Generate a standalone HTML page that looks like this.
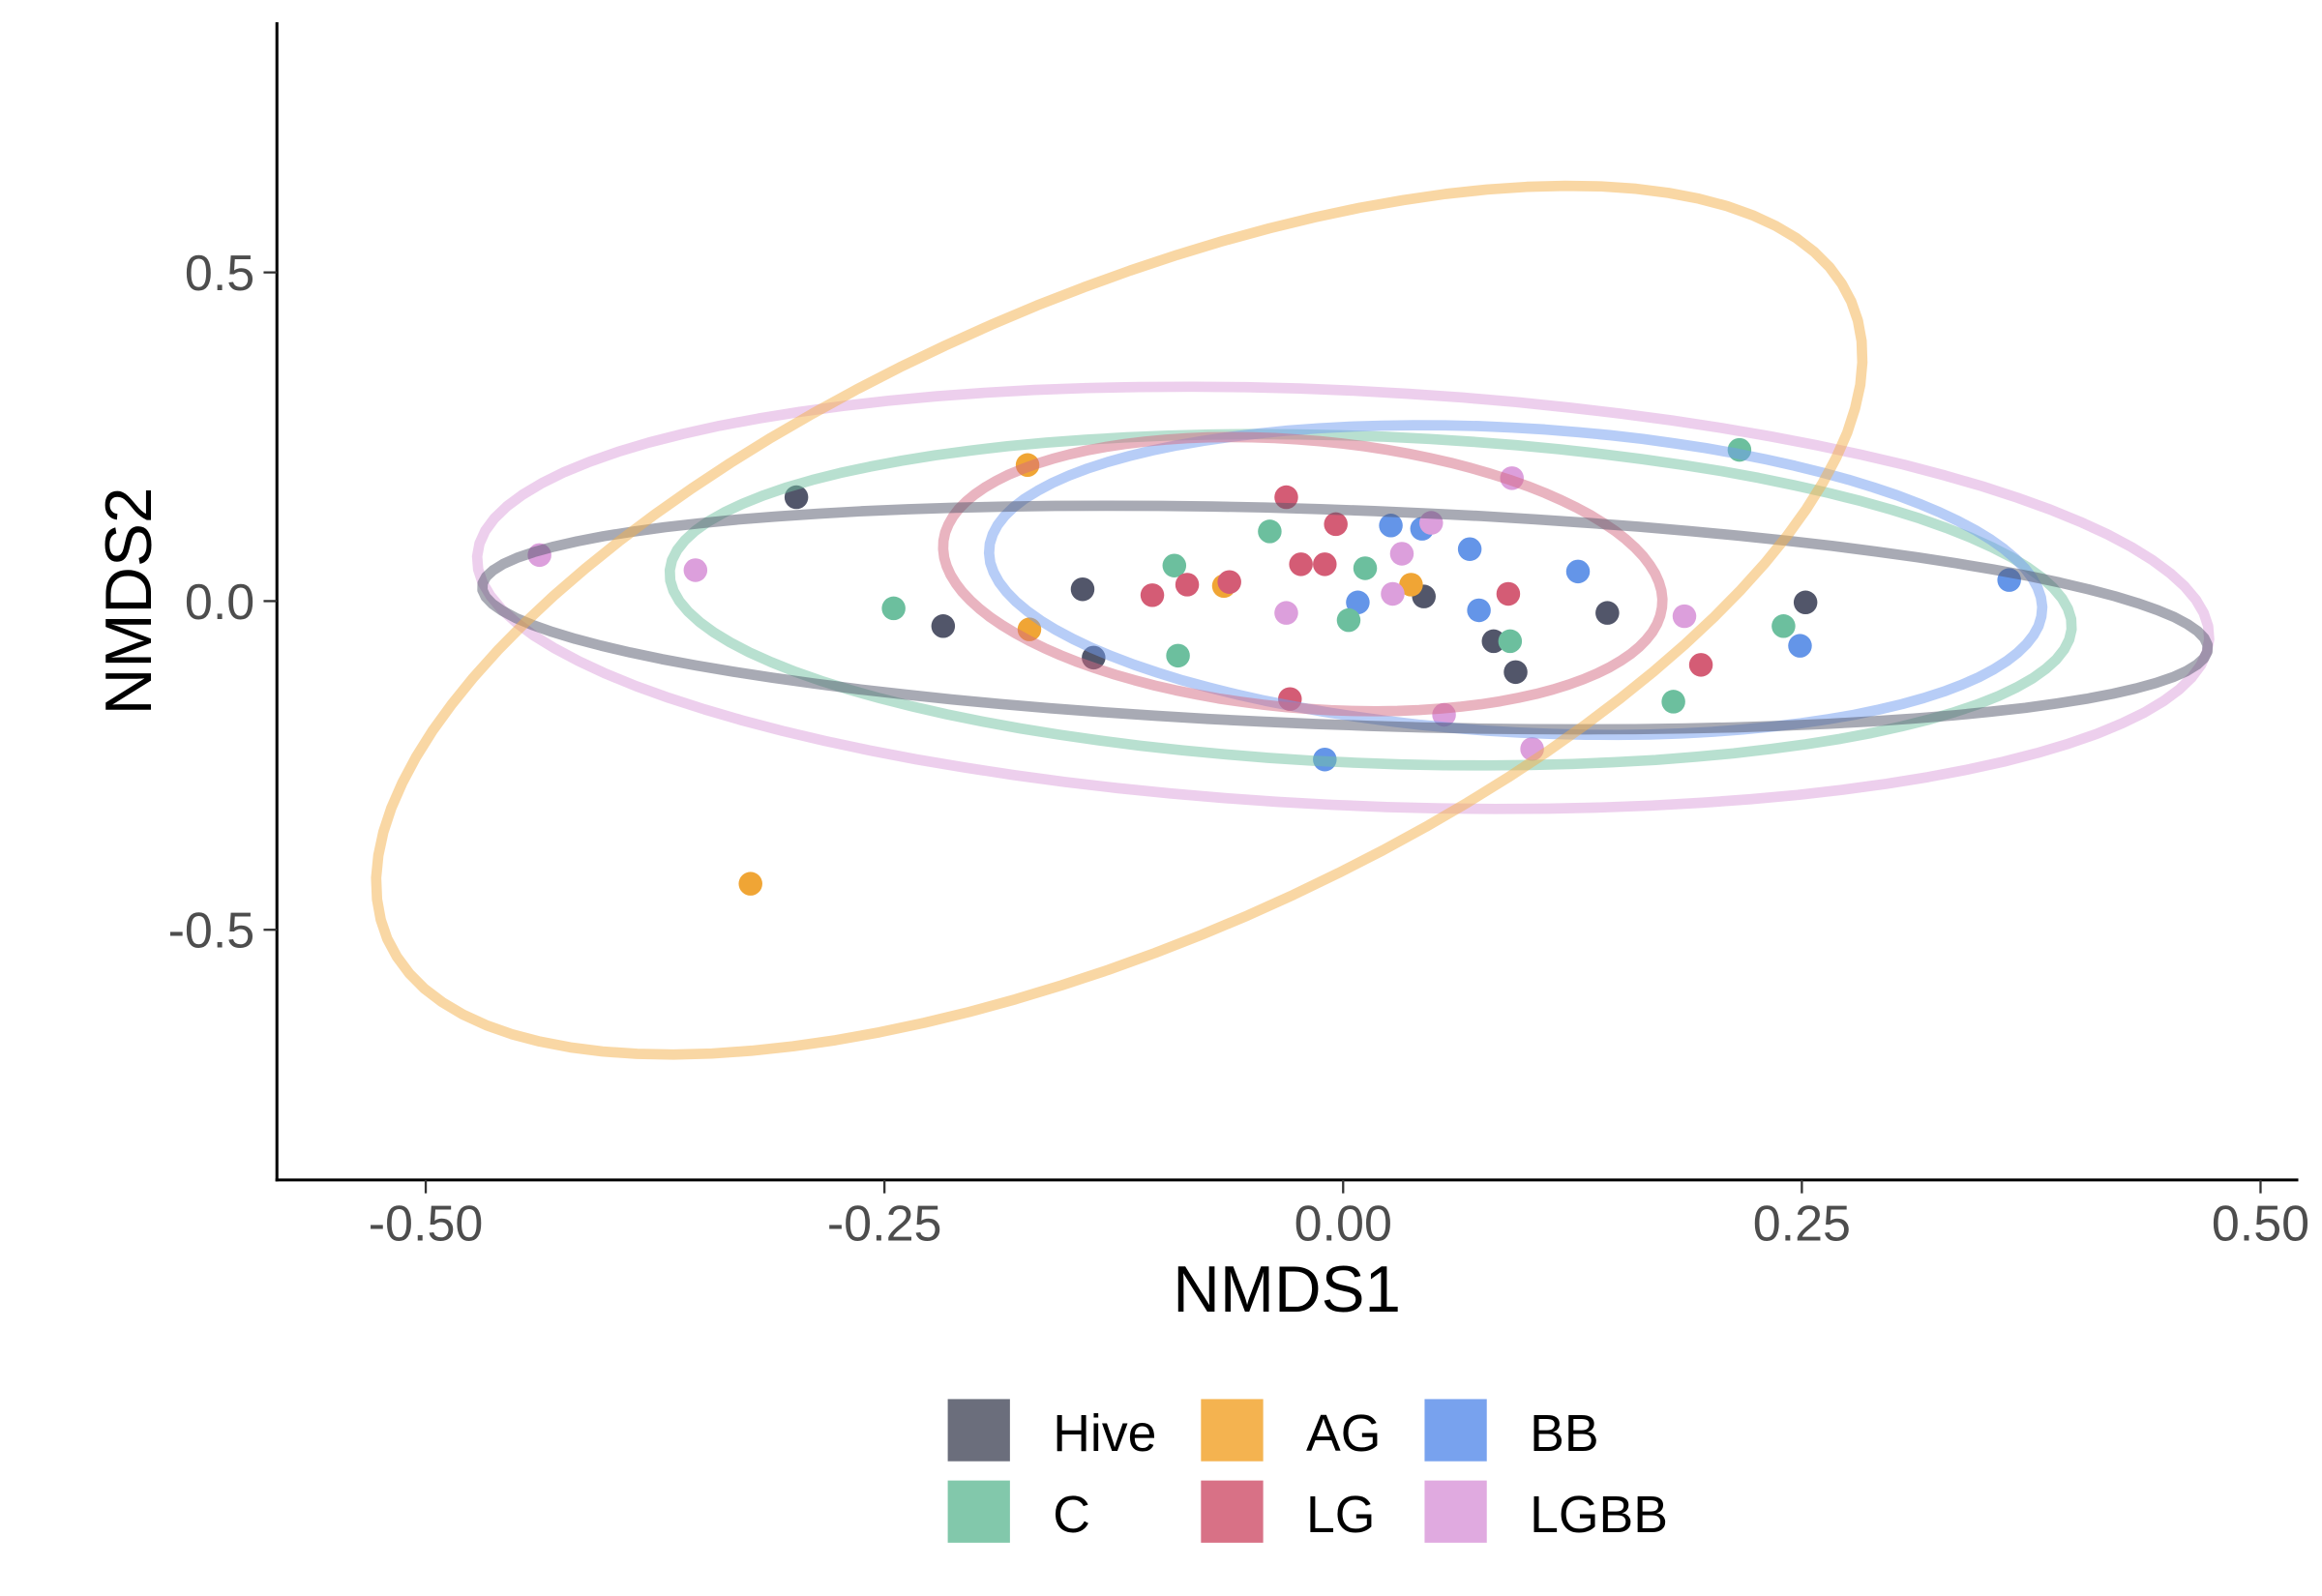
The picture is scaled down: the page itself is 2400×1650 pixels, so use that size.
<!DOCTYPE html>
<html><head><meta charset="utf-8"><style>
html,body{margin:0;padding:0;background:#fff;}
svg{display:block;}
text{font-family:"Liberation Sans",Arial,sans-serif;}
</style></head><body>
<svg id="chart" width="2400" height="1650" viewBox="0 0 1568 1078" xmlns="http://www.w3.org/2000/svg">
<g id="ellipses"></g>
<g id="points"></g>
<g id="axes"></g>
<g id="legend"></g>
</svg>
<script>
const groups = ["Hive","AG","BB","C","LG","LGBB"];
const hiveX = [-0.298,-0.218,-0.142,-0.136,0.044,0.082,0.094,0.144,0.252];
const hiveY = [0.158,-0.038,0.018,-0.086,0.007,-0.061,-0.108,-0.018,-0.002];
const agX = [-0.172,-0.171,-0.065,0.037,-0.323];
const agY = [0.207,-0.043,0.023,0.025,-0.430];
const bbX = [0.026,0.043,0.069,0.128,0.008,0.074,0.249,0.363,-0.010];
const bbY = [0.115,0.110,0.079,0.045,-0.002,-0.014,-0.068,0.032,-0.241];
const cX = [-0.245,-0.092,-0.090,-0.040,0.012,0.003,0.091,0.180,0.216,0.240];
const cY = [-0.011,0.054,-0.083,0.106,0.050,-0.029,-0.061,-0.153,0.230,-0.038];
const lgX = [-0.031,-0.004,-0.023,-0.010,-0.104,-0.085,-0.062,0.090,-0.029,0.195];
const lgY = [0.158,0.117,0.056,0.056,0.009,0.025,0.029,0.011,-0.149,-0.097];
const lgbbX = [-0.438,-0.353,-0.031,0.027,0.032,0.048,0.092,0.055,0.103,0.186];
const lgbbY = [0.070,0.047,-0.018,0.011,0.072,0.119,0.187,-0.173,-0.225,-0.023];
// ellipse: center x, center y, conjugate vector a (x,y), vector b (x,y)
const ellHive = [0.001,-0.025,0.470,-0.052,0.016,0.162];
const ellAG = [-0.122,-0.029,0.405,0.392,0.006,0.532];
const ellBB = [0.094,0.032,0.287,-0.041,-0.002,0.232];
const ellC = [0.015,0.002,0.382,-0.045,0.008,0.248];
const ellLG = [-0.022,0.041,0.196,-0.038,-0.003,0.205];
const ellLGBB = [0.0,0.005,0.472,-0.063,0.006,0.315];
const xTicks = [-0.5,-0.25,0,0.25,0.5];
const xTickLabels = ["-0.50","-0.25","0.00","0.25","0.50"];
const yTicks = [0.5,0,-0.5];
const yTickLabels = ["0.5","0.0","-0.5"];

const NS="http://www.w3.org/2000/svg";
const X = v => 907 + v*1239;
const Y = v => 406 - v*444;
function mk(tag, parent, attrs){const e=document.createElementNS(NS,tag);for(const k in attrs)e.setAttribute(k,attrs[k]);parent.appendChild(e);return e;}

const ptCol = {Hive:"#52566a",AG:"#f0a535",BB:"#6495e8",C:"#6cbf9e",LG:"#d45c75",LGBB:"#dc9fdc"};
const lnCol = {Hive:"#52566a",AG:"#f4b04a",BB:"#6f9bef",C:"#72c2a2",LG:"#d46a82",LGBB:"#dca0dc"};
const keyCol = {Hive:"#6b6e7c",AG:"#f4b350",BB:"#78a2ee",C:"#82c8ab",LG:"#d87186",LGBB:"#e0aae0"};
const xs={Hive:hiveX,AG:agX,BB:bbX,C:cX,LG:lgX,LGBB:lgbbX};
const ys={Hive:hiveY,AG:agY,BB:bbY,C:cY,LG:lgY,LGBB:lgbbY};
const ells={Hive:ellHive,AG:ellAG,BB:ellBB,C:ellC,LG:ellLG,LGBB:ellLGBB};

const pg=document.getElementById('points');
groups.forEach(g=>{
  xs[g].forEach((x,i)=>{
    const c=mk('circle',pg,{cx:X(x),cy:Y(ys[g][i]),r:8,fill:ptCol[g]});
    
    
  });
});
const eTop=document.createElementNS(NS,'g');document.getElementById('chart').insertBefore(eTop,document.getElementById('axes'));
["LGBB","C","BB","LG","Hive","AG"].forEach(g=>{
  const e=ells[g];let d="";
  for(let k=0;k<=100;k++){const t=k/100*2*Math.PI;
    const x=e[0]+e[2]*Math.cos(t)+e[4]*Math.sin(t);
    const y=e[1]+e[3]*Math.cos(t)+e[5]*Math.sin(t);
    d+=(k?"L":"M")+X(x).toFixed(1)+","+Y(y).toFixed(1);}
  const p=mk('path',eTop,{d:d+"Z",fill:"none",stroke:lnCol[g],"stroke-opacity":0.5,"stroke-width":7,"stroke-linejoin":"round"});
  
  
});

const ag=document.getElementById('axes');
mk('line',ag,{x1:187,y1:15,x2:187,y2:798,stroke:"#000","stroke-width":2});
mk('line',ag,{x1:186,y1:797,x2:1552,y2:797,stroke:"#000","stroke-width":2});
xTicks.forEach((v,i)=>{
  const l=mk('line',ag,{x1:X(v),y1:797,x2:X(v),y2:806,stroke:"#333","stroke-width":1.5});
  
  const t=mk('text',ag,{x:X(v),y:838,"text-anchor":"middle","font-size":34,fill:"#4d4d4d"});
  t.textContent=xTickLabels[i];
  
  
});
yTicks.forEach((v,i)=>{
  const l=mk('line',ag,{x1:178,y1:Y(v),x2:187,y2:Y(v),stroke:"#333","stroke-width":1.5});
  
  const t=mk('text',ag,{x:172,y:Y(v)+12,"text-anchor":"end","font-size":34,fill:"#4d4d4d"});
  t.textContent=yTickLabels[i];
  
  
});
let t=mk('text',ag,{x:869,y:886,"text-anchor":"middle","font-size":44,fill:"#000"});
t.textContent="NMDS1";


t=mk('text',ag,{x:0,y:0,"text-anchor":"middle","font-size":44,fill:"#000",transform:"translate(102,406) rotate(-90)"});
t.textContent="NMDS2";



const lg=document.getElementById('legend');
const colX=[640,811,962], rowY=[945,1000];
const order=[["Hive",0,0],["C",0,1],["AG",1,0],["LG",1,1],["BB",2,0],["LGBB",2,1]];
order.forEach(o=>{
  const g=o[0],x=colX[o[1]],y=rowY[o[2]];
  const r=mk('rect',lg,{x:x,y:y,width:42,height:42,fill:keyCol[g]});
  
  
  const tx=mk('text',lg,{x:x+71,y:y+35,"font-size":35,fill:"#000"});
  tx.textContent=g;
  
  
});
</script>
</body></html>
